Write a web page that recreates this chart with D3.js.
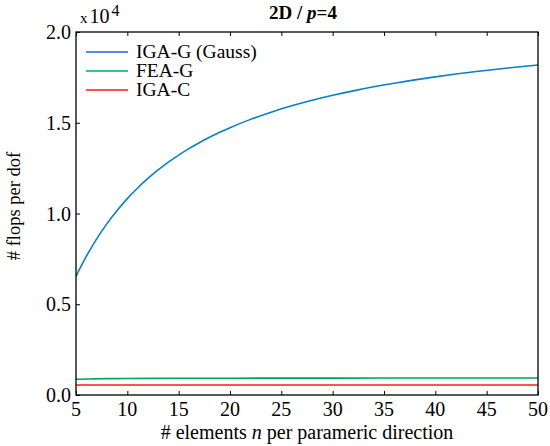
<!DOCTYPE html>
<html><head><meta charset="utf-8">
<script src="https://cdn.jsdelivr.net/npm/d3@7"></script>
</head><body style="margin:0">
<script>
const nIGAG = [5,6,7,8,9,10,11,12,13,14,15,16,17,18,19,20,22,24,26,28,30,32,34,36,38,40,42,44,46,48,50];
const igaG  = [6546,7636,8589,9427,10166,10821,11406,11931,12403,12831,13220,13574,13900,14198,14474,14729,15186,15583,15931,16239,16513,16758,16980,17180,17362,17529,17682,17822,17952,18072,18184];
const nFEAG = [5,6,8,10,15,20,30,40,50];
const feaG  = [865,880,900,910,920,926,931,934,937];
const nIGAC = [5,50];
const igaC  = [550,550];
const xTicks = [5,10,15,20,25,30,35,40,45,50];
const yTicks = [0,5000,10000,15000,20000];
const yTickLabels = ["0.0","0.5","1.0","1.5","2.0"];
const seriesNames = ["IGA-G (Gauss)","FEA-G","IGA-C"];
const lineColors = ["#0a7fc8","#00a84f","#ff1a1a"];
const legendColors = ["#2060e0","#00b050","#ff1a1a"];

const FONT='Tinos, "Liberation Serif", "Times New Roman", FreeSerif, serif';
const W=550,H=446, L=76,R=538,T=32,B=395;
const svg=d3.select("body").append("svg").attr("width",W).attr("height",H)
  .style("display","block");
const x=d3.scaleLinear().domain([5,50]).range([L,R]);
const y=d3.scaleLinear().domain([0,20000]).range([B,T]);

function txt(sel,size,weight){
  return sel.append("text").style("font-family",FONT).style("font-size",size+"px")
    .style("font-weight",weight||"normal");
}

const series=[[nIGAG,igaG],[nFEAG,feaG],[nIGAC,igaC]];
const line=d3.line().x(d=>x(d[0])).y(d=>y(d[1])).curve(d3.curveMonotoneX);
series.forEach((s,i)=>{
  svg.append("path").datum(s[0].map((n,j)=>[n,s[1][j]]))
    .attr("d",line).attr("fill","none").attr("stroke",lineColors[i]).attr("stroke-width",1.6);
});

// axes (ticks via d3 axes; labels as own text)
const bx=svg.append("g").attr("transform",`translate(0,${B})`)
  .call(d3.axisBottom(x).tickValues(xTicks).tickSizeInner(-4).tickSizeOuter(0).tickFormat(""));
const tx=svg.append("g").attr("transform",`translate(0,${T})`)
  .call(d3.axisTop(x).tickValues(xTicks).tickSizeInner(-4).tickSizeOuter(0).tickFormat(""));
const ly=svg.append("g").attr("transform",`translate(${L},0)`)
  .call(d3.axisLeft(y).tickValues(yTicks).tickSizeInner(-4).tickSizeOuter(0).tickFormat(""));
[bx,tx,ly].forEach(g=>{
  g.attr("font-family",null).attr("font-size",null);
  g.select(".domain").remove();
  g.selectAll("text").remove();
  g.selectAll("line").attr("stroke","#000").attr("stroke-width",1);
});
xTicks.forEach(v=>{
  txt(svg,20).attr("x",x(v)).attr("y",416).attr("text-anchor","middle").text(v);
});
yTicks.forEach((v,i)=>{
  txt(svg,20).attr("x",L-5).attr("y",y(v)+7).attr("text-anchor","end").text(yTickLabels[i]);
});

// frame
svg.append("rect").attr("x",L).attr("y",T).attr("width",R-L).attr("height",B-T)
  .attr("fill","none").attr("stroke","#000").attr("stroke-width",1.3);

// exponent
const ex=txt(svg,20).attr("x",80).attr("y",23);
ex.append("tspan").style("font-size","15px").text("x");
ex.append("tspan").attr("dx",2).text("10");
ex.append("tspan").attr("dy",-7).attr("dx",2).style("font-size","16px").text("4");

// title
const tt=txt(svg,19,"bold").attr("x",303).attr("y",19).attr("text-anchor","middle");
tt.append("tspan").text("2D / ");
tt.append("tspan").style("font-style","italic").text("p");
tt.append("tspan").text("=4");

// axis labels
const xl=txt(svg,20).attr("x",(L+R)/2).attr("y",439).attr("text-anchor","middle");
xl.append("tspan").text("# elements ");
xl.append("tspan").style("font-style","italic").text("n");
xl.append("tspan").text(" per parameric direction");
txt(svg,18.5).attr("transform",`translate(20,206) rotate(-90)`).attr("text-anchor","middle")
  .text("# flops per dof");

// legend
seriesNames.forEach((nm,i)=>{
  const yy=52+i*19;
  svg.append("line").attr("x1",86).attr("x2",128).attr("y1",yy).attr("y2",yy)
    .attr("stroke",legendColors[i]).attr("stroke-width",1.6);
  txt(svg,19.5).attr("x",136).attr("y",yy+6).text(nm);
});
</script>
</body></html>
